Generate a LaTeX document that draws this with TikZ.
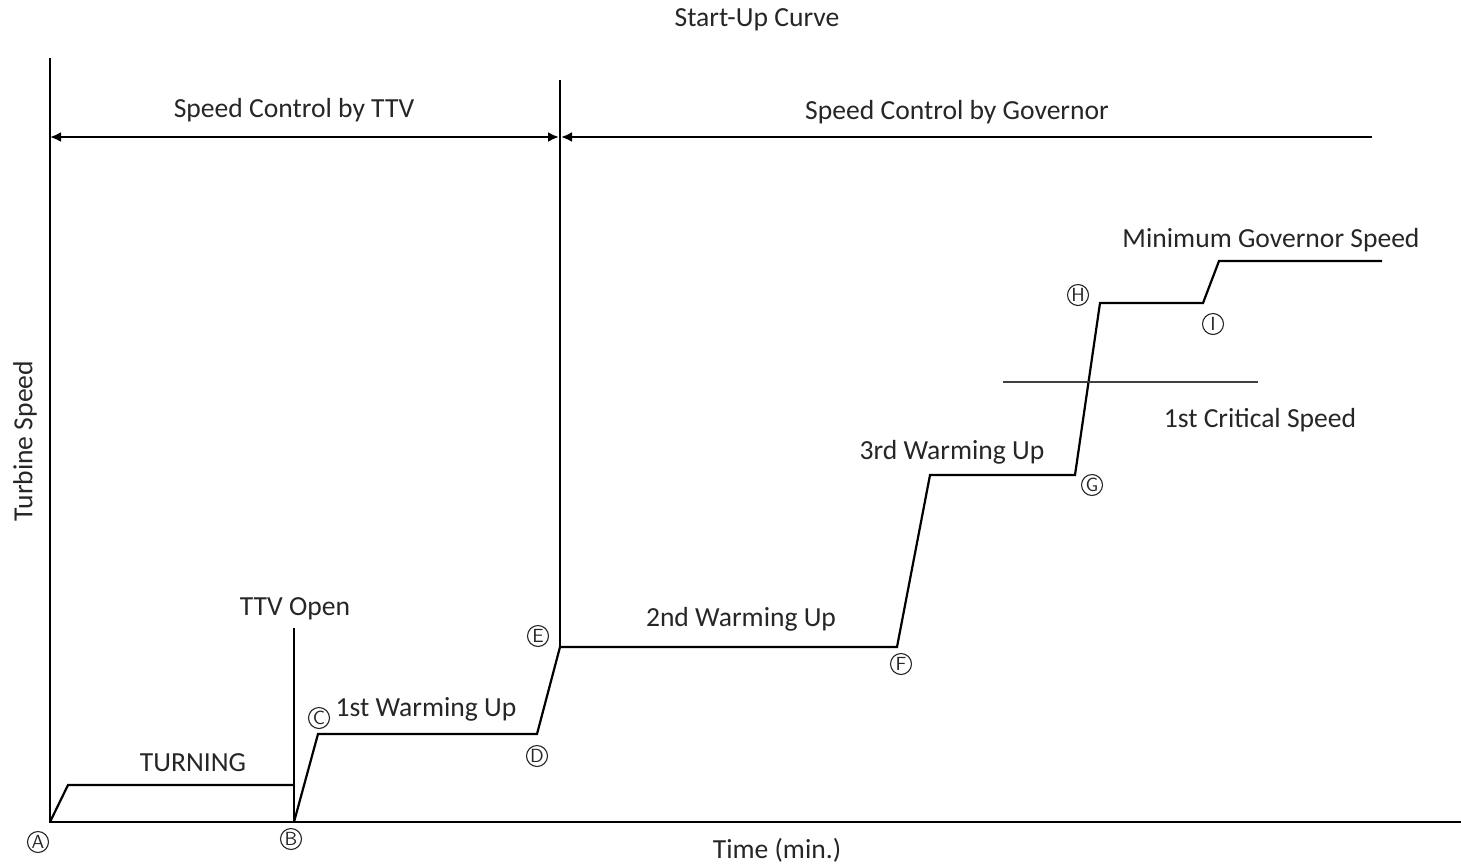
\documentclass[tikz,border=0pt]{standalone}
\usepackage{fontspec}
\setmainfont{Carlito}
\usetikzlibrary{arrows.meta, positioning, calc}
\tikzset{
  axis/.style  = {line width=1.1pt, draw=black},
  curve/.style = {line width=1.1pt, draw=black, line join=miter},
  span/.style  = {line width=1.1pt, draw=black},
  tip/.style   = {{Latex[length=5.5pt, width=5pt]}-{Latex[length=5.5pt, width=5pt]}},
  ltip/.style  = {{Latex[length=5.5pt, width=5pt]}-},
  crit/.style  = {line width=0.7pt, draw=black!75},
  lbl/.style   = {font=\fontsize{13.8}{16}\selectfont, text=black!85, inner sep=0pt},
  pt/.style    = {circle, draw=black!85, line width=0.55pt, minimum size=10.5pt, inner sep=0pt,
                  font=\sffamily\fontsize{9.5}{10}\selectfont, text=black!85}
}
\begin{document}
\begin{tikzpicture}[x=0.5pt, y=-0.5pt]
\useasboundingbox (0,0) rectangle (1461,863);
%% ===== axes =====
\coordinate (o) at (50,822);
\coordinate (ytop) at (50,58);
\coordinate (xend) at (1461,822);
\draw[axis] (ytop) -- (o) -- (xend);
%% ===== start-up curve =====
\coordinate (pA) at (50,822);
\coordinate (t1) at (68,785);
\coordinate (t2) at (294,785);
\coordinate (pB) at (294,822);
\coordinate (pC) at (318,734);
\coordinate (pD) at (537,734);
\coordinate (pE) at (560,647);
\coordinate (pF) at (897,647);
\coordinate (w3) at (930,475);
\coordinate (pG) at (1075,475);
\coordinate (pH) at (1100,303);
\coordinate (pI) at (1203,303);
\coordinate (m1) at (1219,261);
\coordinate (m2) at (1382,261);
\draw[curve] (pA) -- (t1) -- (t2);
\draw[curve] (pB) -- (pC) -- (pD) -- (pE) -- (pF) -- (w3) -- (pG) -- (pH) -- (pI) -- (m1) -- (m2);
% TTV open line and control boundary
\coordinate (ttv) at (294,628);
\draw[span] (pB) -- (ttv);
\coordinate (etop) at (560,80);
\draw[span] (pE) -- (etop);
% 1st critical speed
\coordinate (c1) at (1003,382);
\coordinate (c2) at (1258,382);
\draw[crit] (c1) -- (c2);
%% ===== control ranges =====
\coordinate (r0) at (50,137);
\coordinate (r1) at (559,137);
\coordinate (r2) at (561,137);
\coordinate (r3) at (1372,137);
\draw[span, tip] (r0) -- (r1);
\draw[span, ltip] (r2) -- (r3);
%% ===== labels =====
\node[lbl] (title) at (757,20) {Start-Up Curve};
\node[lbl] (sttv) at (294,110) {Speed Control by TTV};
\node[lbl] (sgov) at (957,112) {Speed Control by Governor};
\node[lbl] (mgov) at (1271,240) {Minimum Governor Speed};
\node[lbl] (crs) at (1260,420) {1st Critical Speed};
\node[lbl] (wu3) at (952,452) {3rd Warming Up};
\node[lbl] (wu2) at (741,619) {2nd Warming Up};
\node[lbl] (wu1) at (426,709) {1st Warming Up};
\node[lbl] (open) at (295,609) {TTV Open};
\node[lbl] (turn) at (193,763) {TURNING};
\node[lbl] (xlab) at (777,850) {Time (min.)};
\node[lbl, rotate=90] (ylab) at (25,441) {Turbine Speed};
%% ===== points =====
\node[pt] (lA) at (38,842) {A};
\node[pt] (lB) at (291,839) {B};
\node[pt] (lC) at (319,718) {C};
\node[pt] (lD) at (537,756) {D};
\node[pt] (lE) at (538,636) {E};
\node[pt] (lF) at (901,664) {F};
\node[pt] (lG) at (1092,485) {G};
\node[pt] (lH) at (1078,295) {H};
\node[pt] (lI) at (1213,324) {I};
\end{tikzpicture}
\end{document}
